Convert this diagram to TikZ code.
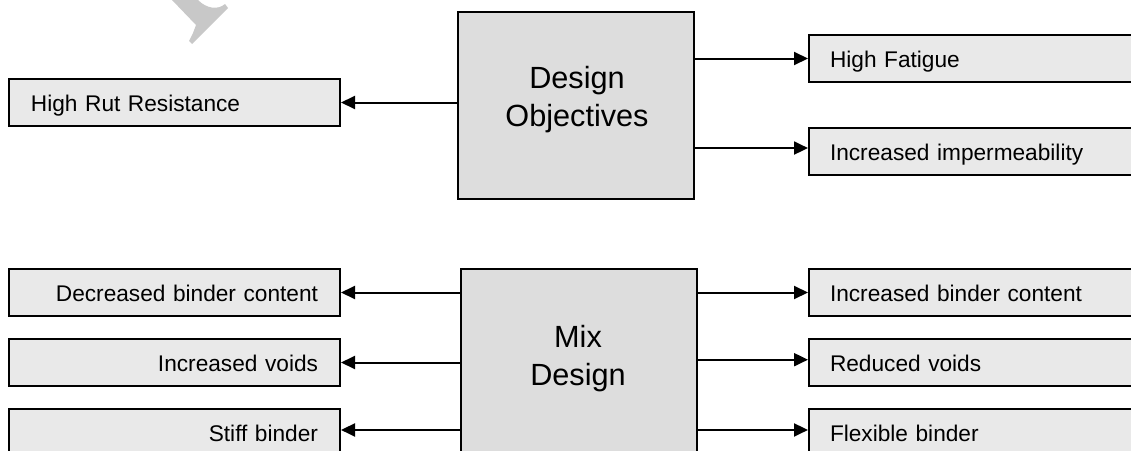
\documentclass[tikz,border=0pt]{standalone}
\usepackage{fontspec}
\setmainfont{Liberation Sans}
\usetikzlibrary{arrows.meta}
\definecolor{hubfill}{HTML}{DDDDDD}
\definecolor{leaffill}{HTML}{E9E9E9}
\definecolor{markgrey}{HTML}{C8C8C8}
\begin{document}
\begin{tikzpicture}[x=0.75pt,y=-0.75pt,
  hub/.style={draw, line width=1.5pt, fill=hubfill, inner sep=0pt,
    minimum width=177pt, anchor=north west},
  hublabel/.style={font=\fontsize{23}{28.5}\selectfont, align=center, inner sep=0pt},
  leaf/.style={draw, line width=1.5pt, fill=leaffill, inner ysep=0pt,
    minimum height=35.25pt, anchor=north west, text height=18pt, text depth=4pt,
    font=\fontsize{17}{20}\selectfont},
  leafL/.style={leaf, inner xsep=16.5pt, text width=215.25pt, align=right},
  leafR/.style={leaf, inner xsep=15.75pt, text width=240pt, align=left},
  link/.style={line width=1.5pt, -{Triangle[length=10.5pt,width=9.75pt]}}]
\useasboundingbox (0,0) rectangle (1131,450);
\clip (0,0) rectangle (1131,450);

% faint mark in the upper left
\fill[markgrey] (172,0) -- (196,25) -- (193,33) -- (189,41) -- (192,44)
  -- (228,8) -- (225,4) .. controls (218,10) and (207,9) .. (198,0) -- cycle;

% upper block: design objectives
\node[hub, minimum height=140.25pt] (obj) at (457,11) {};
\node[hublabel] (objtext) at (577,100) {Design\\Objectives};

\node[leafR, text width=215.25pt, inner xsep=16.5pt] (rut) at (8,78) {High Rut Resistance};
\node[leafR] (fat) at (808,34) {High Fatigue};
\node[leafR] (imp) at (808,127) {Increased impermeability};

\coordinate (impin) at ([yshift=2.6pt]imp.west);
\draw[link] (obj.west |- rut.east) -- (rut.east);
\draw[link] (obj.east |- fat.west) -- (fat.west);
\draw[link] (obj.east |- impin) -- (impin);

% lower block: mix design
\node[hub, minimum height=159pt] (mix) at (460,268) {};
\node[hublabel] (mixtext) at (578,358.5) {Mix\\Design};

\node[leafL] (lessbinder) at (8,268) {Decreased binder content};
\node[leafL] (morevoids) at (8,338) {Increased voids};
\node[leafL] (stiff) at (8,408) {Stiff binder};
\node[leafR] (morebinder) at (808,268) {Increased binder content};
\node[leafR] (lessvoids) at (808,338) {Reduced voids};
\node[leafR] (flex) at (808,408) {Flexible binder};

\coordinate (stiffin) at ([yshift=1.9pt]stiff.east);
\coordinate (lessvoidsin) at ([yshift=2.1pt]lessvoids.west);
\coordinate (flexin) at ([yshift=1.9pt]flex.west);
\draw[link] (mix.west |- lessbinder.east) -- (lessbinder.east);
\draw[link] (mix.west |- morevoids.east) -- (morevoids.east);
\draw[link] (mix.west |- stiffin) -- (stiffin);
\draw[link] (mix.east |- morebinder.west) -- (morebinder.west);
\draw[link] (mix.east |- lessvoidsin) -- (lessvoidsin);
\draw[link] (mix.east |- flexin) -- (flexin);
\end{tikzpicture}
\end{document}
